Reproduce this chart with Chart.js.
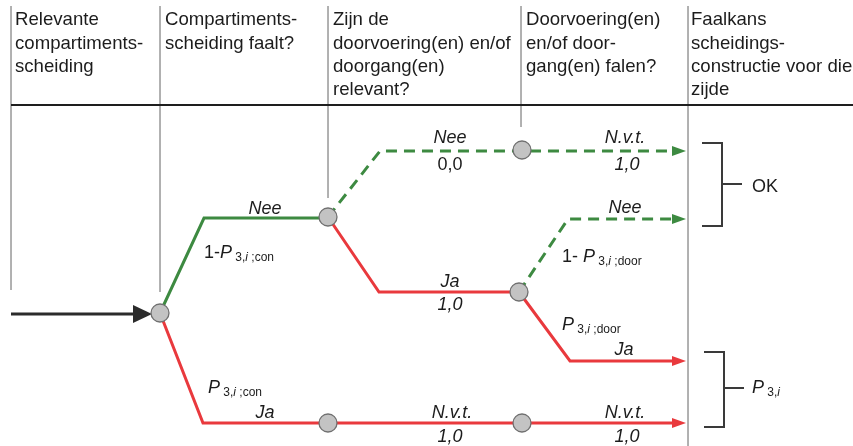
<!DOCTYPE html>
<html>
<head>
<meta charset="utf-8">
<script src="https://cdn.jsdelivr.net/npm/chart.js@4"></script>
<style>
  html, body { margin: 0; padding: 0; background: #fff; }
  #wrap { width: 853px; height: 446px; }
</style>
</head>
<body>
<div id="wrap"><canvas id="tree" width="853" height="446"></canvas></div>
<script>
// Column headers (one array of lines per column)
const headerX = [15, 165, 333, 526, 691];
const headerRowY = [20, 43.5, 67, 90];
const headerLines = [
  ['Relevante', 'compartiments-', 'scheiding'],
  ['Compartiments-', 'scheiding faalt?'],
  ['Zijn de', 'doorvoering(en) en/of', 'doorgang(en)', 'relevant?'],
  ['Doorvoering(en)', 'en/of door-', 'gang(en) falen?'],
  ['Faalkans', 'scheidings-', 'constructie voor die', 'zijde']
];

// Column dividers: x position and where the line stops
const dividerX = [11, 160, 328, 521, 688];
const dividerTop = 6;
const dividerEnd = [290, 292, 198, 127, 446];
const headerRuleY = 105;

// Event tree branches (diagram units), and the kind of each branch
const branchPaths = [
  [[11, 314], [133, 314]],
  [[160, 313], [204, 218], [328, 218]],
  [[160, 313], [203, 423], [672, 423]],
  [[328, 217], [380, 151], [672, 151]],
  [[328, 217], [379, 292], [519, 292]],
  [[519, 292], [568, 219], [672, 219]],
  [[519, 292], [570, 361], [672, 361]]
];
const branchKind = ['start', 'nee', 'ja', 'nvt', 'ja', 'nee-dash', 'ja'];
const branchArrow = [true, false, true, true, false, true, true];

// Chance nodes
const nodes = [[160, 313], [328, 217], [522, 150], [519, 292], [328, 423], [522, 423]];

// Outcome brackets
const brackets = [
  { top: 143, bottom: 226, mid: 184 },
  { top: 352, bottom: 427, mid: 388 }
];
const bracketX = [[702, 722, 742], [704, 724, 744]];

// Labels: runs of [text, style]; n = normal, i = italic, s = subscript, si = italic subscript
const treeLabels = [
  { x: 265, y: 209, c: true, runs: [['Nee', 'i']] },
  { x: 204, y: 253, c: false, runs: [['1-', 'n'], ['P', 'i'], [' 3,', 's'], ['i', 'si'], [' ;con', 's']] },
  { x: 450, y: 138, c: true, runs: [['Nee', 'i']] },
  { x: 450, y: 165, c: true, runs: [['0,0', 'n']] },
  { x: 625, y: 138, c: true, runs: [['N.v.t.', 'i']] },
  { x: 627, y: 165, c: true, runs: [['1,0', 'i']] },
  { x: 450, y: 282, c: true, runs: [['Ja', 'i']] },
  { x: 450, y: 305, c: true, runs: [['1,0', 'i']] },
  { x: 625, y: 208, c: true, runs: [['Nee', 'i']] },
  { x: 562, y: 257, c: false, runs: [['1- ', 'n'], ['P', 'i'], [' 3,', 's'], ['i', 'si'], [' ;door', 's']] },
  { x: 562, y: 325, c: false, runs: [['P', 'i'], [' 3,', 's'], ['i', 'si'], [' ;door', 's']] },
  { x: 624, y: 350, c: true, runs: [['Ja', 'i']] },
  { x: 208, y: 388, c: false, runs: [['P', 'i'], [' 3,', 's'], ['i', 'si'], [' ;con', 's']] },
  { x: 265, y: 413, c: true, runs: [['Ja', 'i']] },
  { x: 452, y: 413, c: true, runs: [['N.v.t.', 'i']] },
  { x: 450, y: 437, c: true, runs: [['1,0', 'i']] },
  { x: 625, y: 413, c: true, runs: [['N.v.t.', 'i']] },
  { x: 627, y: 437, c: true, runs: [['1,0', 'i']] },
  { x: 752, y: 187, c: false, runs: [['OK', 'n']] },
  { x: 752, y: 388, c: false, runs: [['P', 'i'], [' 3,', 's'], ['i', 'si']] }
];

const GREEN = '#3d8a41';
const RED = '#e9393d';
const FONT = '"Liberation Sans", Arial, sans-serif';

const kindStyle = {
  'start': { color: '#2b2b2b', dash: [] },
  'nee': { color: GREEN, dash: [] },
  'ja': { color: RED, dash: [] },
  'nvt': { color: GREEN, dash: [11, 7] },
  'nee-dash': { color: GREEN, dash: [11, 7] }
};

// Arrowhead image: base at the centre, tip at the right edge
function arrowHead(len, half, color) {
  const c = document.createElement('canvas');
  c.width = len * 2;
  c.height = half * 2;
  const g = c.getContext('2d');
  g.fillStyle = color;
  g.beginPath();
  g.moveTo(len, 0);
  g.lineTo(len * 2, half);
  g.lineTo(len, half * 2);
  g.closePath();
  g.fill();
  return c;
}

const arrows = {
  'start': arrowHead(19, 9, '#2b2b2b'),
  'nee': arrowHead(14, 5, GREEN),
  'ja': arrowHead(14, 5, RED),
  'nvt': arrowHead(14, 5, GREEN),
  'nee-dash': arrowHead(14, 5, GREEN)
};

function toXY(p) {
  return { x: p[0], y: p[1] };
}

const datasets = [];

// nodes on top
datasets.push({
  data: nodes.map(toXY),
  order: 0,
  pointRadius: 9,
  pointBackgroundColor: '#c3c3c3',
  pointBorderColor: '#707070',
  pointBorderWidth: 1.3,
  showLine: false
});

branchPaths.forEach((path, i) => {
  const st = kindStyle[branchKind[i]];
  const last = path.length - 1;
  datasets.push({
    data: path.map(toXY),
    order: 2,
    showLine: true,
    borderColor: st.color,
    borderWidth: 3,
    borderDash: st.dash,
    tension: 0,
    pointRadius: ctx => (branchArrow[i] && ctx.dataIndex === last) ? 8 : 0,
    pointStyle: arrows[branchKind[i]],
    pointBorderWidth: 0
  });
});

dividerX.forEach((x, i) => {
  datasets.push({
    data: [{ x: x, y: dividerTop }, { x: x, y: dividerEnd[i] }],
    order: 5,
    showLine: true,
    borderColor: '#a6a6a6',
    borderWidth: 1,
    pointRadius: 0
  });
});

datasets.push({
  data: [{ x: dividerX[0], y: headerRuleY }, { x: 853, y: headerRuleY }],
  order: 4,
  showLine: true,
  borderColor: '#1e1e1e',
  borderWidth: 2,
  pointRadius: 0
});

brackets.forEach((b, i) => {
  const bx = bracketX[i];
  datasets.push({
    data: [{ x: bx[0], y: b.top }, { x: bx[1], y: b.top }, { x: bx[1], y: b.bottom }, { x: bx[0], y: b.bottom }],
    order: 3,
    showLine: true,
    borderColor: '#3a3a3a',
    borderWidth: 2,
    pointRadius: 0
  });
  datasets.push({
    data: [{ x: bx[1], y: b.mid }, { x: bx[2], y: b.mid }],
    order: 3,
    showLine: true,
    borderColor: '#3a3a3a',
    borderWidth: 2,
    pointRadius: 0
  });
});

// Fonts for label runs
function runFont(style) {
  if (style === 'i') return 'italic 18px ' + FONT;
  if (style === 's') return '12px ' + FONT;
  if (style === 'si') return 'italic 12px ' + FONT;
  return '18px ' + FONT;
}

const textPlugin = {
  id: 'treeText',
  afterDatasetsDraw(chart) {
    const c = chart.ctx;
    const xs = chart.scales.x;
    const ys = chart.scales.y;
    c.save();
    c.fillStyle = '#1c1c1c';
    c.textBaseline = 'middle';
    c.textAlign = 'left';

    // headers
    c.font = '18.6px ' + FONT;
    headerLines.forEach((lines, col) => {
      lines.forEach((txt, row) => {
        c.fillText(txt, xs.getPixelForValue(headerX[col]), ys.getPixelForValue(headerRowY[row]));
      });
    });

    // tree labels
    treeLabels.forEach(lab => {
      let total = 0;
      lab.runs.forEach(r => {
        c.font = runFont(r[1]);
        total += c.measureText(r[0]).width;
      });
      let x = xs.getPixelForValue(lab.x);
      if (lab.c) x -= total / 2;
      const y = ys.getPixelForValue(lab.y);
      lab.runs.forEach(r => {
        c.font = runFont(r[1]);
        const sub = r[1] === 's' || r[1] === 'si';
        c.fillText(r[0], x, sub ? y + 5 : y);
        x += c.measureText(r[0]).width;
      });
    });
    c.restore();
  }
};

const ctx = document.getElementById('tree').getContext('2d');
new Chart(ctx, {
  type: 'scatter',
  data: { datasets: datasets },
  options: {
    responsive: false,
    animation: false,
    events: [],
    layout: { padding: 0, autoPadding: false },
    plugins: {
      legend: { display: false },
      tooltip: { enabled: false }
    },
    scales: {
      x: { type: 'linear', min: 0, max: 853, display: false },
      y: { type: 'linear', min: 0, max: 446, reverse: true, display: false }
    }
  },
  plugins: [textPlugin]
});
</script>
</body>
</html>
